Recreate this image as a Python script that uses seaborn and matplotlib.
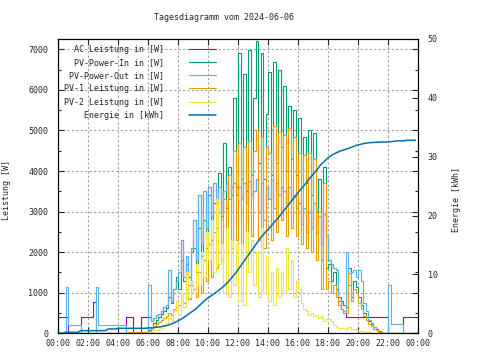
import matplotlib
matplotlib.use("Agg")
import matplotlib.pyplot as plt
import numpy as np
import seaborn as sns

# 10-minute samples, one row per hour (00:00 ... 23:50)
ac_power = [
    390, 390, 390, 390, 0, 0,
    0, 0, 0, 390, 390, 390,
    390, 390, 780, 0, 0, 0,
    0, 0, 0, 0, 0, 0,
    0, 0, 0, 390, 390, 390,
    0, 0, 0, 390, 390, 390,
    390, 300, 380, 450, 480, 550,
    650, 700, 1550, 800, 1100, 1300,
    1500, 2300, 1400, 1900, 1200, 2100,
    2800, 1800, 3400, 2200, 3500, 2600,
    3600, 2900, 3700, 3200, 3600, 3000,
    3500, 3700, 3300, 3600, 3700, 3400,
    3600, 3300, 3700, 3200, 3750, 3400,
    3500, 3800, 3000, 3700, 2800, 3600,
    3300, 3780, 3100, 3700, 3400, 3600,
    3500, 3200, 3600, 3300, 3400, 3100,
    3200, 2700, 3100, 2500, 3000, 2600,
    3200, 2460, 2900, 2200, 2950, 2400,
    1800, 1700, 1600, 1560, 800, 600,
    500, 390, 390, 390, 390, 390,
    390, 390, 390, 390, 390, 390,
    390, 390, 390, 390, 390, 390,
    0, 0, 0, 0, 0, 0,
    390, 390, 390, 390, 390, 390,
]
pv_power_in = [
    0, 0, 0, 0, 0, 0,
    0, 0, 0, 0, 0, 0,
    0, 0, 0, 0, 0, 0,
    0, 0, 0, 0, 0, 0,
    0, 0, 0, 0, 0, 0,
    0, 0, 0, 0, 0, 0,
    80, 150, 250, 320, 400, 480,
    560, 620, 900, 750, 1100, 1400,
    1100, 1800, 1300, 1700, 1400, 2000,
    2100, 1500, 2600, 1900, 2800, 2100,
    3400, 2300, 3200, 2600, 3950, 2900,
    4700, 3100, 4100, 3400, 5800, 3600,
    6900, 3800, 6400, 3500, 6980, 3900,
    5800, 7200, 4200, 6900, 3800, 5400,
    6450, 3900, 6680, 4200, 6500, 4600,
    6100, 4000, 5600, 4300, 5500, 3900,
    5300, 3600, 4850, 3700, 5000, 3400,
    4930, 3000, 3800, 1800, 4100, 1600,
    1700, 1300, 1500, 1100, 900, 800,
    700, 650, 1600, 900, 1300, 1150,
    900, 700, 500, 400, 300, 220,
    150, 100, 60, 30, 10, 0,
    0, 0, 0, 0, 0, 0,
    0, 0, 0, 0, 0, 0,
]
pv_power_out = [
    0, 0, 0, 1150, 200, 200,
    200, 200, 200, 0, 0, 0,
    0, 0, 0, 1150, 200, 200,
    200, 200, 200, 200, 200, 200,
    200, 200, 200, 0, 0, 0,
    0, 0, 0, 0, 0, 0,
    1200, 300, 380, 450, 480, 550,
    650, 700, 1550, 800, 1100, 1300,
    1500, 2300, 1400, 1900, 1200, 2100,
    2800, 1800, 3400, 2200, 3500, 2600,
    3600, 2900, 3700, 3200, 3600, 3000,
    3500, 3700, 3300, 3600, 3700, 3400,
    3600, 3300, 3700, 3200, 3750, 3400,
    3500, 3800, 3000, 3700, 2800, 3600,
    3300, 3780, 3100, 3700, 3400, 3600,
    3500, 3200, 3600, 3300, 3400, 3100,
    3200, 2700, 3100, 2500, 3000, 2600,
    3200, 2460, 2900, 2200, 2950, 2400,
    1800, 1700, 1600, 1560, 800, 600,
    500, 2000, 1200, 1500, 1560, 1400,
    1560, 1300, 740, 550, 330, 250,
    150, 80, 0, 0, 0, 0,
    1190, 230, 230, 230, 230, 230,
    0, 0, 0, 0, 0, 0,
]
pv1_power = [
    0, 0, 0, 0, 0, 0,
    0, 0, 0, 0, 0, 0,
    0, 0, 0, 0, 0, 0,
    0, 0, 0, 0, 0, 0,
    0, 0, 0, 0, 25, 25,
    25, 25, 25, 25, 25, 25,
    50, 100, 180, 230, 280, 330,
    380, 420, 500, 460, 600, 650,
    700, 1000, 750, 1100, 850, 1200,
    1100, 900, 1500, 1000, 1800, 1300,
    2200, 1400, 2500, 1600, 3000, 1800,
    3300, 2000, 3900, 2100, 4500, 2300,
    4700, 2200, 4600, 2000, 4750, 2400,
    4500, 5000, 2300, 4850, 2100, 4600,
    4440, 2300, 5100, 2500, 4950, 2800,
    4900, 2400, 5050, 2600, 4850, 2400,
    4440, 2200, 4400, 2100, 4440, 2000,
    4300, 1800, 3000, 1100, 3700, 1100,
    1300, 1000, 1200, 900, 700, 600,
    550, 500, 1480, 800, 1100, 1000,
    750, 600, 420, 330, 240, 170,
    110, 70, 40, 20, 5, 0,
    0, 0, 0, 0, 0, 0,
    0, 0, 0, 0, 0, 0,
]
pv2_power = [
    0, 0, 0, 0, 0, 0,
    0, 0, 0, 0, 0, 0,
    0, 0, 0, 0, 0, 0,
    0, 0, 0, 0, 0, 0,
    0, 0, 0, 0, 0, 0,
    0, 0, 0, 0, 0, 0,
    10, 40, 70, 90, 110, 140,
    170, 200, 380, 300, 550, 800,
    450, 1000, 650, 1500, 900, 1300,
    1000, 1700, 1200, 2000, 1400, 2500,
    1800, 2800, 1500, 3300, 1700, 2200,
    1000, 2600, 900, 2300, 1200, 2200,
    800, 2200, 700, 2500, 1500, 2300,
    1200, 2000, 900, 2600, 1000, 1900,
    800, 1500, 700, 1600, 900, 1500,
    1000, 2100, 1100, 1800, 900, 1300,
    1100, 750, 600, 550, 450, 500,
    420, 460, 380, 420, 300, 350,
    350, 300, 200, 150, 140, 130,
    120, 110, 150, 100, 100, 80,
    60, 50, 40, 30, 20, 10,
    0, 0, 0, 0, 0, 0,
    0, 0, 0, 0, 0, 0,
    0, 0, 0, 0, 0, 0,
]
energy_kwh = [
    0, 0, 0, 0.17, 0.17, 0.17,
    0.17, 0.17, 0.17, 0.45, 0.45, 0.45,
    0.45, 0.45, 0.45, 0.45, 0.45, 0.45,
    0.45, 0.45, 0.73, 0.73, 0.73, 0.73,
    0.85, 0.85, 0.85, 0.85, 0.85, 0.85,
    0.85, 0.85, 0.85, 0.85, 0.85, 0.85,
    0.9, 0.92, 0.95, 1.0, 1.05, 1.1,
    1.2, 1.3, 1.4, 1.55, 1.7, 1.9,
    2.1, 2.35, 2.6, 2.9, 3.2, 3.5,
    3.8, 4.1, 4.5, 4.9, 5.3, 5.7,
    6.0, 6.3, 6.6, 6.9, 7.2, 7.55,
    7.9, 8.3, 8.7, 9.2, 9.7, 10.2,
    10.8, 11.4, 12.0, 12.6, 13.2, 13.8,
    14.4, 15.0, 15.6, 16.2, 16.7, 17.2,
    17.6, 18.1, 18.6, 19.1, 19.6, 20.1,
    20.7, 21.2, 21.7, 22.3, 22.8, 23.3,
    23.9, 24.4, 24.9, 25.4, 26.0, 26.5,
    27.0, 27.5, 28.0, 28.6, 29.0, 29.4,
    29.8, 30.1, 30.4, 30.6, 30.8, 31.0,
    31.1, 31.25, 31.4, 31.55, 31.7, 31.9,
    32.0, 32.1, 32.2, 32.3, 32.35, 32.4,
    32.42, 32.45, 32.47, 32.5, 32.5, 32.5,
    32.5, 32.55, 32.6, 32.65, 32.7, 32.7,
    32.7, 32.75, 32.8, 32.8, 32.8, 32.8,
]

series_labels = [
    "AC Leistung in [W]",
    "PV-Power-In in [W]",
    "PV-Power-Out in [W]",
    "PV-1 Leistung in [W]",
    "PV-2 Leistung in [W]",
]
energy_label = "Energie in [kWh]"
hour_ticks = list(range(0, 25, 2))
hour_labels = ["%02d:00" % (h % 24) for h in hour_ticks]

colors = ["#9400D3", "#009E73", "#56B4E9", "#E69F00", "#F0E442"]
energy_color = "#0072B2"

sns.set_style("ticks")
plt.rcParams["font.family"] = ["DejaVu Sans Mono"]
plt.rcParams["font.size"] = 6.0

# hours of each sample, plus the closing point at 24:00 for the step lines
hours = np.arange(len(ac_power) + 1) / 6.0

fig = plt.figure(figsize=(4.8, 3.6), dpi=100)
ax = fig.add_axes([58 / 480, 1 - 333.3 / 360, 360 / 480, 294.3 / 360])
ax2 = ax.twinx()

all_series = [ac_power, pv_power_in, pv_power_out, pv1_power, pv2_power]
for values, color, label in zip(all_series, colors, series_labels):
    y = np.append(values, values[-1])
    sns.lineplot(x=hours, y=y, ax=ax, color=color, linewidth=0.8,
                 drawstyle="steps-post", label=label, legend=False)

sns.lineplot(x=hours[:-1], y=energy_kwh, ax=ax2, color=energy_color,
             linewidth=1.1, label=energy_label, legend=False)

ax.set_xlim(0, 24)
ax.set_ylim(0, 7254)
ax2.set_ylim(0, 50)

ax.set_xticks(hour_ticks)
ax.set_xticklabels(hour_labels)
ax.set_yticks(range(0, 7001, 1000))
ax.set_yticks(range(500, 7001, 1000), minor=True)
ax2.set_yticks(range(0, 51, 10))

ax.grid(True, which="major", color="#a0a0a0", linestyle=(0, (2, 2)), linewidth=0.8)
ax.set_axisbelow(True)

ax.tick_params(axis="both", which="major", direction="in", length=4, width=0.8,
               top=True, right=True, pad=7)
ax.tick_params(axis="x", pad=4)
ax.tick_params(axis="y", which="minor", direction="in", length=2, width=0.8, right=True)
ax2.tick_params(axis="y", direction="in", length=4, width=0.8, pad=7)

for a in (ax, ax2):
    for spine in a.spines.values():
        spine.set_color("black")
        spine.set_linewidth(0.8)

ax.set_xlabel("")
ax.set_ylabel("Leistung [W]")
ax.yaxis.set_label_coords((11 - 58) / 360, 0.487)
ax2.set_ylabel("Energie [kWh]")
ax2.yaxis.set_label_coords((452 - 58) / 360, 0.453)

fig.text(224 / 480, 1 - 18 / 360, "Tagesdiagramm vom 2024-06-06", ha="center", va="center")

handles, labels = ax.get_legend_handles_labels()
h2, l2 = ax2.get_legend_handles_labels()
handles += h2
labels += l2
width = max(len(s) for s in labels)
labels = [s.rjust(width) for s in labels]
leg = ax.legend(handles, labels, loc="upper left", bbox_to_anchor=(6 / 360, 0.980),
                frameon=False, markerfirst=False, borderpad=0, borderaxespad=0,
                handlelength=3.2, handletextpad=3.0, labelspacing=0.5)

fig.savefig("out.png", dpi=100)
plt.close(fig)
